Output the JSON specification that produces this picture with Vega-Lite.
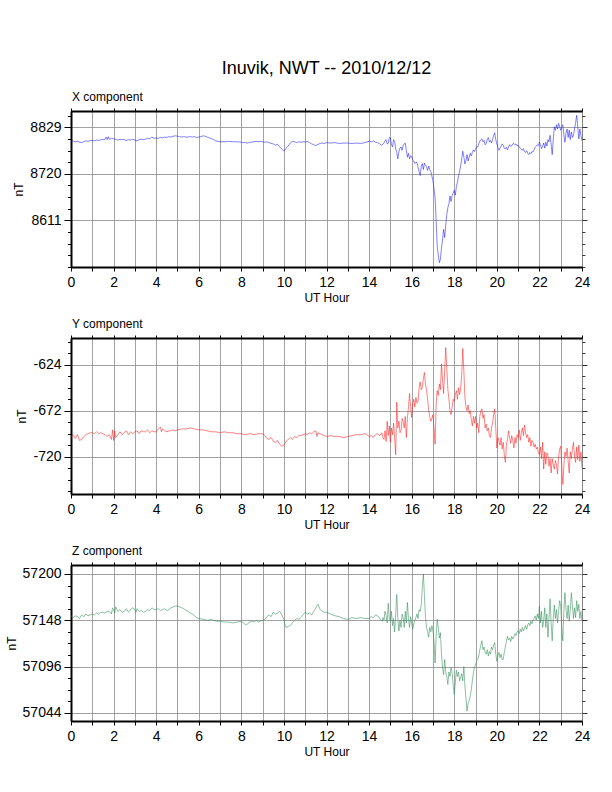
{
  "$schema": "https://vega.github.io/schema/vega-lite/v6.json",
  "padding": {"left": 4, "top": 60, "right": 5, "bottom": 5},
  "title": {"text": "Inuvik, NWT -- 2010/12/12", "fontSize": 18, "fontWeight": "normal", "font": "Liberation Sans", "color": "black", "frame": "group", "anchor": "middle", "offset": 12},
  "bounds": "flush",
  "spacing": 71,
  "config": {
    "view": {"stroke": "#777", "strokeWidth": 1},
    "font": "Liberation Sans",
    "title": {"font": "Liberation Sans", "color": "black"},
    "axis": {"labelFont": "Liberation Sans", "titleFont": "Liberation Sans", "labelColor": "black", "titleColor": "black", "tickColor": "black", "domainColor": "black", "titleFontWeight": "normal", "gridColor": "#8a8a8a", "gridWidth": 0.8, "labelFontSize": 14, "titleFontSize": 12, "domainWidth": 2, "tickWidth": 1, "labelFlush": false, "labelOverlap": false},
    "axisBottom": {"tickSize": 4, "labelPadding": 4, "titlePadding": 3},
    "axisLeft": {"labelPadding": 3, "titlePadding": 4},
    "axisRight": {"tickWidth": 0.8, "domain": false},
    "axisTop": {"tickSize": 3}
  },
  "vconcat": [
    {
      "width": 511, "height": 156,
      "title": {"text": "X component", "anchor": "start", "frame": "group", "fontSize": 12, "fontWeight": "normal", "offset": 4, "dx": 1},
      "data": {"name": "xcomp"},
      "resolve": {"axis": {"x": "independent", "y": "independent"}},
      "layer": [
        {
          "mark": {"type": "line", "strokeWidth": 0.55, "color": "#1a1aff", "clip": true},
          "encoding": {
            "x": {"field": "h", "type": "quantitative", "scale": {"domain": [0, 24], "nice": false, "zero": false},
              "axis": {"orient": "bottom", "values": [0,1,2,3,4,5,6,7,8,9,10,11,12,13,14,15,16,17,18,19,20,21,22,23,24], "labelExpr": "datum.value % 2 == 0 ? datum.label : ''", "title": "UT Hour", "grid": true}},
            "y": {"field": "v", "type": "quantitative", "scale": {"domain": [8502, 8867], "nice": false, "zero": false},
              "axis": {"orient": "left", "values": [8502,8529.25,8556.5,8583.75,8611,8638.25,8665.5,8692.75,8720,8747.25,8774.5,8801.75,8829,8856.25],
                "labelExpr": "indexof([8611,8720,8829], datum.value) >= 0 ? '' + datum.value : ''",
                "tickSize": {"condition": {"test": "indexof([8611,8720,8829], datum.value) >= 0", "value": 7}, "value": 3.5},
                "gridOpacity": {"condition": {"test": "indexof([8611,8720,8829], datum.value) >= 0", "value": 1}, "value": 0},
                "title": "nT", "grid": true}}
          }
        },
        {
          "mark": {"type": "line", "opacity": 0},
          "encoding": {
            "x": {"field": "h", "type": "quantitative", "axis": {"orient": "top", "values": [0,1,2,3,4,5,6,7,8,9,10,11,12,13,14,15,16,17,18,19,20,21,22,23,24], "labels": false, "grid": false, "title": null}},
            "y": {"field": "v", "type": "quantitative", "axis": {"orient": "right", "values": [8502,8529.25,8556.5,8583.75,8611,8638.25,8665.5,8692.75,8720,8747.25,8774.5,8801.75,8829,8856.25], "labels": false, "grid": false, "title": null,
              "tickSize": {"condition": {"test": "indexof([8611,8720,8829], datum.value) >= 0", "value": 5}, "value": 3}}}
          }
        }
      ]
    },
    {
      "width": 511, "height": 156,
      "title": {"text": "Y component", "anchor": "start", "frame": "group", "fontSize": 12, "fontWeight": "normal", "offset": 4, "dx": 1},
      "data": {"name": "ycomp"},
      "resolve": {"axis": {"x": "independent", "y": "independent"}},
      "layer": [
        {
          "mark": {"type": "line", "strokeWidth": 0.55, "color": "#ff1a1a", "clip": true},
          "encoding": {
            "x": {"field": "h", "type": "quantitative", "scale": {"domain": [0, 24], "nice": false, "zero": false},
              "axis": {"orient": "bottom", "values": [0,1,2,3,4,5,6,7,8,9,10,11,12,13,14,15,16,17,18,19,20,21,22,23,24], "labelExpr": "datum.value % 2 == 0 ? datum.label : ''", "title": "UT Hour", "grid": true}},
            "y": {"field": "v", "type": "quantitative", "scale": {"domain": [-759, -596], "nice": false, "zero": false},
              "axis": {"orient": "left", "values": [-756,-744,-732,-720,-708,-696,-684,-672,-660,-648,-636,-624,-612,-600],
                "labelExpr": "indexof([-720,-672,-624], datum.value) >= 0 ? '' + datum.value : ''",
                "tickSize": {"condition": {"test": "indexof([-720,-672,-624], datum.value) >= 0", "value": 7}, "value": 3.5},
                "gridOpacity": {"condition": {"test": "indexof([-720,-672,-624], datum.value) >= 0", "value": 1}, "value": 0},
                "title": "nT", "grid": true}}
          }
        },
        {
          "mark": {"type": "line", "opacity": 0},
          "encoding": {
            "x": {"field": "h", "type": "quantitative", "axis": {"orient": "top", "values": [0,1,2,3,4,5,6,7,8,9,10,11,12,13,14,15,16,17,18,19,20,21,22,23,24], "labels": false, "grid": false, "title": null}},
            "y": {"field": "v", "type": "quantitative", "axis": {"orient": "right", "values": [-756,-744,-732,-720,-708,-696,-684,-672,-660,-648,-636,-624,-612,-600], "labels": false, "grid": false, "title": null,
              "tickSize": {"condition": {"test": "indexof([-720,-672,-624], datum.value) >= 0", "value": 5}, "value": 3}}}
          }
        }
      ]
    },
    {
      "width": 511, "height": 156,
      "title": {"text": "Z component", "anchor": "start", "frame": "group", "fontSize": 12, "fontWeight": "normal", "offset": 4, "dx": 1},
      "data": {"name": "zcomp"},
      "resolve": {"axis": {"x": "independent", "y": "independent"}},
      "layer": [
        {
          "mark": {"type": "line", "strokeWidth": 0.55, "color": "#2e8b57", "clip": true},
          "encoding": {
            "x": {"field": "h", "type": "quantitative", "scale": {"domain": [0, 24], "nice": false, "zero": false},
              "axis": {"orient": "bottom", "values": [0,1,2,3,4,5,6,7,8,9,10,11,12,13,14,15,16,17,18,19,20,21,22,23,24], "labelExpr": "datum.value % 2 == 0 ? datum.label : ''", "title": "UT Hour", "grid": true}},
            "y": {"field": "v", "type": "quantitative", "scale": {"domain": [57035, 57210], "nice": false, "zero": false},
              "axis": {"orient": "left", "values": [57044,57057,57070,57083,57096,57109,57122,57135,57148,57161,57174,57187,57200],
                "labelExpr": "indexof([57044,57096,57148,57200], datum.value) >= 0 ? '' + datum.value : ''",
                "tickSize": {"condition": {"test": "indexof([57044,57096,57148,57200], datum.value) >= 0", "value": 7}, "value": 3.5},
                "gridOpacity": {"condition": {"test": "indexof([57044,57096,57148,57200], datum.value) >= 0", "value": 1}, "value": 0},
                "title": "nT", "grid": true}}
          }
        },
        {
          "mark": {"type": "line", "opacity": 0},
          "encoding": {
            "x": {"field": "h", "type": "quantitative", "axis": {"orient": "top", "values": [0,1,2,3,4,5,6,7,8,9,10,11,12,13,14,15,16,17,18,19,20,21,22,23,24], "labels": false, "grid": false, "title": null}},
            "y": {"field": "v", "type": "quantitative", "axis": {"orient": "right", "values": [57044,57057,57070,57083,57096,57109,57122,57135,57148,57161,57174,57187,57200], "labels": false, "grid": false, "title": null,
              "tickSize": {"condition": {"test": "indexof([57044,57096,57148,57200], datum.value) >= 0", "value": 5}, "value": 3}}}
          }
        }
      ]
    }
  ],
  "datasets": {
    "xcomp": [
      {"h":0,"v":8796},{"h":0.1,"v":8797},{"h":0.2,"v":8795},{"h":0.3,"v":8796},{"h":0.4,"v":8794},{"h":0.5,"v":8793},{"h":0.6,"v":8795},{"h":0.7,"v":8797},{"h":0.8,"v":8796},{"h":0.9,"v":8798},
      {"h":1,"v":8798},{"h":1.1,"v":8797},{"h":1.2,"v":8799},{"h":1.3,"v":8798},{"h":1.4,"v":8800},{"h":1.5,"v":8800},{"h":1.6,"v":8801},{"h":1.65,"v":8806},{"h":1.7,"v":8800},{"h":1.75,"v":8807},{"h":1.8,"v":8801},{"h":1.9,"v":8803},
      {"h":2,"v":8802},{"h":2.1,"v":8801},{"h":2.2,"v":8799},{"h":2.3,"v":8801},{"h":2.4,"v":8800},{"h":2.5,"v":8800},{"h":2.6,"v":8798},{"h":2.7,"v":8800},{"h":2.8,"v":8799},{"h":2.9,"v":8801},
      {"h":3,"v":8799},{"h":3.1,"v":8797},{"h":3.2,"v":8800},{"h":3.3,"v":8801},{"h":3.4,"v":8800},{"h":3.5,"v":8801},{"h":3.6,"v":8803},{"h":3.7,"v":8802},{"h":3.8,"v":8806},{"h":3.9,"v":8803},
      {"h":4,"v":8804},{"h":4.1,"v":8803},{"h":4.2,"v":8805},{"h":4.3,"v":8804},{"h":4.4,"v":8806},{"h":4.5,"v":8805},{"h":4.6,"v":8807},{"h":4.7,"v":8806},{"h":4.8,"v":8808},{"h":4.9,"v":8809},
      {"h":5,"v":8808},{"h":5.1,"v":8807},{"h":5.2,"v":8806},{"h":5.3,"v":8807},{"h":5.4,"v":8806},{"h":5.5,"v":8806},{"h":5.6,"v":8807},{"h":5.7,"v":8806},{"h":5.8,"v":8807},{"h":5.9,"v":8805},
      {"h":6,"v":8806},{"h":6.1,"v":8807},{"h":6.2,"v":8809},{"h":6.3,"v":8808},{"h":6.4,"v":8806},{"h":6.5,"v":8804},{"h":6.6,"v":8802},{"h":6.7,"v":8800},{"h":6.8,"v":8797},{"h":6.9,"v":8796},
      {"h":7,"v":8795},{"h":7.2,"v":8795},{"h":7.4,"v":8796},{"h":7.6,"v":8795},{"h":7.8,"v":8795},{"h":8,"v":8794},{"h":8.1,"v":8793},{"h":8.2,"v":8793},{"h":8.3,"v":8792},{"h":8.4,"v":8794},{"h":8.5,"v":8794},{"h":8.6,"v":8795},{"h":8.7,"v":8796},{"h":8.8,"v":8795},{"h":8.9,"v":8796},
      {"h":9,"v":8795},{"h":9.1,"v":8794},{"h":9.2,"v":8795},{"h":9.3,"v":8793},{"h":9.4,"v":8791},{"h":9.5,"v":8790},{"h":9.6,"v":8787},{"h":9.7,"v":8789},{"h":9.8,"v":8783},{"h":9.9,"v":8778},
      {"h":10,"v":8773},{"h":10.05,"v":8775},{"h":10.1,"v":8780},{"h":10.2,"v":8785},{"h":10.3,"v":8792},{"h":10.4,"v":8796},{"h":10.5,"v":8795},{"h":10.6,"v":8793},{"h":10.7,"v":8795},{"h":10.8,"v":8794},{"h":10.9,"v":8795},
      {"h":11,"v":8794},{"h":11.1,"v":8796},{"h":11.2,"v":8793},{"h":11.3,"v":8790},{"h":11.4,"v":8788},{"h":11.5,"v":8786},{"h":11.6,"v":8789},{"h":11.7,"v":8791},{"h":11.8,"v":8792},{"h":11.9,"v":8791},
      {"h":12,"v":8793},{"h":12.2,"v":8792},{"h":12.4,"v":8793},{"h":12.6,"v":8791},{"h":12.8,"v":8792},{"h":13,"v":8792},{"h":13.2,"v":8791},{"h":13.4,"v":8792},{"h":13.6,"v":8791},{"h":13.8,"v":8793},
      {"h":14,"v":8796},{"h":14.1,"v":8795},{"h":14.2,"v":8797},{"h":14.3,"v":8794},{"h":14.4,"v":8793},{"h":14.5,"v":8790},{"h":14.6,"v":8787},{"h":14.7,"v":8792},{"h":14.75,"v":8798},{"h":14.8,"v":8800},{"h":14.85,"v":8790},{"h":14.9,"v":8791},{"h":14.95,"v":8805},
      {"h":15,"v":8804},{"h":15.05,"v":8788},{"h":15.1,"v":8783},{"h":15.15,"v":8800},{"h":15.2,"v":8796},{"h":15.25,"v":8778},{"h":15.3,"v":8770},{"h":15.35,"v":8755},{"h":15.4,"v":8772},{"h":15.45,"v":8780},{"h":15.5,"v":8783},{"h":15.55,"v":8775},{"h":15.6,"v":8786},{"h":15.65,"v":8790},{"h":15.7,"v":8792},{"h":15.75,"v":8775},{"h":15.8,"v":8759},{"h":15.85,"v":8768},{"h":15.9,"v":8755},{"h":15.95,"v":8762},
      {"h":16,"v":8761},{"h":16.05,"v":8752},{"h":16.1,"v":8750},{"h":16.15,"v":8744},{"h":16.2,"v":8747},{"h":16.25,"v":8746},{"h":16.3,"v":8735},{"h":16.35,"v":8725},{"h":16.4,"v":8716},{"h":16.45,"v":8738},{"h":16.5,"v":8744},{"h":16.55,"v":8730},{"h":16.6,"v":8745},{"h":16.65,"v":8740},{"h":16.7,"v":8737},{"h":16.75,"v":8728},{"h":16.8,"v":8738},{"h":16.85,"v":8730},{"h":16.9,"v":8725},{"h":16.95,"v":8715},
      {"h":17,"v":8704},{"h":17.05,"v":8685},{"h":17.1,"v":8665},{"h":17.15,"v":8610},{"h":17.2,"v":8551},{"h":17.25,"v":8530},{"h":17.3,"v":8512},{"h":17.35,"v":8520},{"h":17.4,"v":8547},{"h":17.45,"v":8565},{"h":17.5,"v":8590},{"h":17.55,"v":8571},{"h":17.6,"v":8600},{"h":17.65,"v":8625},{"h":17.7,"v":8641},{"h":17.75,"v":8650},{"h":17.8,"v":8668},{"h":17.85,"v":8655},{"h":17.9,"v":8669},{"h":17.95,"v":8675},
      {"h":18,"v":8681},{"h":18.05,"v":8670},{"h":18.1,"v":8690},{"h":18.15,"v":8700},{"h":18.2,"v":8715},{"h":18.25,"v":8725},{"h":18.3,"v":8738},{"h":18.35,"v":8755},{"h":18.4,"v":8773},{"h":18.45,"v":8760},{"h":18.5,"v":8743},{"h":18.55,"v":8752},{"h":18.6,"v":8765},{"h":18.65,"v":8750},{"h":18.7,"v":8759},{"h":18.75,"v":8768},{"h":18.8,"v":8762},{"h":18.85,"v":8770},{"h":18.9,"v":8776},{"h":18.95,"v":8772},
      {"h":19,"v":8778},{"h":19.05,"v":8783},{"h":19.1,"v":8783},{"h":19.15,"v":8790},{"h":19.2,"v":8796},{"h":19.25,"v":8800},{"h":19.3,"v":8802},{"h":19.35,"v":8795},{"h":19.4,"v":8798},{"h":19.45,"v":8788},{"h":19.5,"v":8791},{"h":19.55,"v":8800},{"h":19.6,"v":8805},{"h":19.65,"v":8795},{"h":19.7,"v":8798},{"h":19.75,"v":8792},{"h":19.8,"v":8800},{"h":19.85,"v":8810},{"h":19.9,"v":8816},{"h":19.95,"v":8800},
      {"h":20,"v":8790},{"h":20.05,"v":8782},{"h":20.1,"v":8775},{"h":20.15,"v":8780},{"h":20.2,"v":8785},{"h":20.25,"v":8790},{"h":20.3,"v":8787},{"h":20.35,"v":8780},{"h":20.4,"v":8778},{"h":20.45,"v":8782},{"h":20.5,"v":8776},{"h":20.55,"v":8783},{"h":20.6,"v":8788},{"h":20.65,"v":8784},{"h":20.7,"v":8786},{"h":20.75,"v":8790},{"h":20.8,"v":8791},{"h":20.85,"v":8788},{"h":20.9,"v":8790},{"h":20.95,"v":8786},
      {"h":21,"v":8787},{"h":21.05,"v":8783},{"h":21.1,"v":8780},{"h":21.15,"v":8778},{"h":21.2,"v":8775},{"h":21.25,"v":8779},{"h":21.3,"v":8772},{"h":21.35,"v":8770},{"h":21.4,"v":8774},{"h":21.45,"v":8768},{"h":21.5,"v":8765},{"h":21.55,"v":8770},{"h":21.6,"v":8767},{"h":21.65,"v":8772},{"h":21.7,"v":8771},{"h":21.75,"v":8776},{"h":21.8,"v":8782},{"h":21.85,"v":8785},{"h":21.9,"v":8788},{"h":21.95,"v":8786},
      {"h":22,"v":8794},{"h":22.05,"v":8788},{"h":22.1,"v":8779},{"h":22.15,"v":8785},{"h":22.2,"v":8792},{"h":22.25,"v":8780},{"h":22.3,"v":8794},{"h":22.35,"v":8785},{"h":22.4,"v":8800},{"h":22.45,"v":8795},{"h":22.5,"v":8810},{"h":22.55,"v":8790},{"h":22.6,"v":8765},{"h":22.65,"v":8800},{"h":22.7,"v":8830},{"h":22.75,"v":8822},{"h":22.8,"v":8835},{"h":22.85,"v":8825},{"h":22.9,"v":8838},{"h":22.95,"v":8830},
      {"h":23,"v":8822},{"h":23.05,"v":8830},{"h":23.1,"v":8835},{"h":23.15,"v":8810},{"h":23.2,"v":8794},{"h":23.25,"v":8815},{"h":23.3,"v":8825},{"h":23.35,"v":8805},{"h":23.4,"v":8822},{"h":23.45,"v":8800},{"h":23.5,"v":8818},{"h":23.55,"v":8805},{"h":23.6,"v":8810},{"h":23.65,"v":8825},{"h":23.7,"v":8840},{"h":23.75,"v":8857},{"h":23.8,"v":8830},{"h":23.85,"v":8802},{"h":23.9,"v":8825},{"h":23.95,"v":8810},{"h":24,"v":8798}
    ],
    "ycomp": [
      {"h":0,"v":-699},{"h":0.1,"v":-697},{"h":0.2,"v":-701},{"h":0.3,"v":-697},{"h":0.4,"v":-703},{"h":0.5,"v":-702},{"h":0.6,"v":-699},{"h":0.7,"v":-697},{"h":0.8,"v":-696},{"h":0.9,"v":-695},
      {"h":1,"v":-695},{"h":1.1,"v":-696},{"h":1.2,"v":-694},{"h":1.3,"v":-696},{"h":1.4,"v":-695},{"h":1.5,"v":-696},{"h":1.6,"v":-697},{"h":1.7,"v":-699},{"h":1.8,"v":-697},{"h":1.9,"v":-702},{"h":1.95,"v":-692},
      {"h":2,"v":-703},{"h":2.05,"v":-693},{"h":2.1,"v":-700},{"h":2.2,"v":-697},{"h":2.3,"v":-694},{"h":2.4,"v":-697},{"h":2.5,"v":-695},{"h":2.6,"v":-693},{"h":2.7,"v":-697},{"h":2.8,"v":-694},{"h":2.9,"v":-696},
      {"h":3,"v":-694},{"h":3.1,"v":-693},{"h":3.2,"v":-696},{"h":3.3,"v":-693},{"h":3.4,"v":-694},{"h":3.5,"v":-694},{"h":3.6,"v":-692},{"h":3.7,"v":-695},{"h":3.8,"v":-693},{"h":3.9,"v":-694},
      {"h":4,"v":-694},{"h":4.1,"v":-691},{"h":4.2,"v":-689},{"h":4.25,"v":-694},{"h":4.3,"v":-691},{"h":4.4,"v":-693},{"h":4.5,"v":-694},{"h":4.6,"v":-693},{"h":4.7,"v":-693},{"h":4.8,"v":-692},{"h":4.9,"v":-693},
      {"h":5,"v":-692},{"h":5.2,"v":-691},{"h":5.4,"v":-691},{"h":5.6,"v":-690},{"h":5.8,"v":-691},{"h":6,"v":-692},{"h":6.2,"v":-692},{"h":6.4,"v":-693},{"h":6.6,"v":-694},{"h":6.8,"v":-694},
      {"h":7,"v":-695},{"h":7.2,"v":-694},{"h":7.4,"v":-695},{"h":7.6,"v":-695},{"h":7.8,"v":-696},{"h":8,"v":-696},{"h":8.2,"v":-697},{"h":8.4,"v":-696},{"h":8.6,"v":-697},{"h":8.8,"v":-696},
      {"h":9,"v":-696},{"h":9.1,"v":-698},{"h":9.2,"v":-701},{"h":9.3,"v":-702},{"h":9.4,"v":-700},{"h":9.5,"v":-704},{"h":9.6,"v":-705},{"h":9.7,"v":-703},{"h":9.8,"v":-707},{"h":9.9,"v":-709},
      {"h":10,"v":-708},{"h":10.1,"v":-704},{"h":10.2,"v":-702},{"h":10.3,"v":-700},{"h":10.4,"v":-702},{"h":10.5,"v":-699},{"h":10.6,"v":-700},{"h":10.7,"v":-698},{"h":10.8,"v":-698},{"h":10.9,"v":-697},
      {"h":11,"v":-696},{"h":11.1,"v":-697},{"h":11.2,"v":-695},{"h":11.3,"v":-696},{"h":11.4,"v":-694},{"h":11.5,"v":-693},{"h":11.55,"v":-699},{"h":11.6,"v":-695},{"h":11.7,"v":-696},{"h":11.8,"v":-697},{"h":11.9,"v":-698},
      {"h":12,"v":-699},{"h":12.2,"v":-698},{"h":12.4,"v":-699},{"h":12.6,"v":-699},{"h":12.8,"v":-700},{"h":13,"v":-699},{"h":13.2,"v":-698},{"h":13.4,"v":-697},{"h":13.6,"v":-697},{"h":13.8,"v":-696},{"h":13.9,"v":-697},
      {"h":14,"v":-699},{"h":14.1,"v":-698},{"h":14.2,"v":-700},{"h":14.3,"v":-697},{"h":14.4,"v":-696},{"h":14.5,"v":-698},{"h":14.6,"v":-695},{"h":14.65,"v":-700},{"h":14.7,"v":-702},{"h":14.75,"v":-693},{"h":14.8,"v":-704},{"h":14.85,"v":-683},{"h":14.9,"v":-698},{"h":14.95,"v":-688},
      {"h":15,"v":-705},{"h":15.05,"v":-690},{"h":15.1,"v":-697},{"h":15.15,"v":-685},{"h":15.2,"v":-700},{"h":15.25,"v":-718},{"h":15.3,"v":-663},{"h":15.35,"v":-690},{"h":15.4,"v":-683},{"h":15.45,"v":-695},{"h":15.5,"v":-693},{"h":15.55,"v":-680},{"h":15.6,"v":-683},{"h":15.65,"v":-690},{"h":15.7,"v":-678},{"h":15.75,"v":-700},{"h":15.8,"v":-680},{"h":15.85,"v":-668},{"h":15.9,"v":-654},{"h":15.95,"v":-668},
      {"h":16,"v":-679},{"h":16.05,"v":-665},{"h":16.1,"v":-660},{"h":16.15,"v":-668},{"h":16.2,"v":-658},{"h":16.25,"v":-664},{"h":16.3,"v":-662},{"h":16.35,"v":-648},{"h":16.4,"v":-642},{"h":16.45,"v":-650},{"h":16.5,"v":-647},{"h":16.55,"v":-638},{"h":16.6,"v":-632},{"h":16.65,"v":-645},{"h":16.7,"v":-650},{"h":16.75,"v":-660},{"h":16.8,"v":-672},{"h":16.85,"v":-678},{"h":16.9,"v":-683},{"h":16.95,"v":-680},
      {"h":17,"v":-676},{"h":17.05,"v":-690},{"h":17.1,"v":-707},{"h":17.15,"v":-665},{"h":17.2,"v":-651},{"h":17.25,"v":-656},{"h":17.3,"v":-644},{"h":17.35,"v":-650},{"h":17.4,"v":-623},{"h":17.45,"v":-640},{"h":17.5,"v":-654},{"h":17.55,"v":-630},{"h":17.6,"v":-606},{"h":17.65,"v":-628},{"h":17.7,"v":-650},{"h":17.75,"v":-660},{"h":17.8,"v":-672},{"h":17.85,"v":-676},{"h":17.9,"v":-668},{"h":17.95,"v":-660},
      {"h":18,"v":-662},{"h":18.05,"v":-655},{"h":18.1,"v":-651},{"h":18.15,"v":-660},{"h":18.2,"v":-648},{"h":18.25,"v":-655},{"h":18.3,"v":-649},{"h":18.35,"v":-635},{"h":18.4,"v":-607},{"h":18.45,"v":-630},{"h":18.5,"v":-658},{"h":18.55,"v":-668},{"h":18.6,"v":-672},{"h":18.65,"v":-666},{"h":18.7,"v":-675},{"h":18.75,"v":-672},{"h":18.8,"v":-681},{"h":18.85,"v":-688},{"h":18.9,"v":-678},{"h":18.95,"v":-685},
      {"h":19,"v":-678},{"h":19.05,"v":-690},{"h":19.1,"v":-685},{"h":19.15,"v":-695},{"h":19.2,"v":-678},{"h":19.25,"v":-672},{"h":19.3,"v":-670},{"h":19.35,"v":-680},{"h":19.4,"v":-676},{"h":19.45,"v":-690},{"h":19.5,"v":-686},{"h":19.55,"v":-693},{"h":19.6,"v":-690},{"h":19.65,"v":-698},{"h":19.7,"v":-700},{"h":19.75,"v":-690},{"h":19.8,"v":-685},{"h":19.85,"v":-676},{"h":19.9,"v":-670},{"h":19.95,"v":-690},
      {"h":20,"v":-711},{"h":20.05,"v":-700},{"h":20.1,"v":-704},{"h":20.15,"v":-708},{"h":20.2,"v":-700},{"h":20.25,"v":-712},{"h":20.3,"v":-705},{"h":20.35,"v":-718},{"h":20.4,"v":-726},{"h":20.45,"v":-708},{"h":20.5,"v":-702},{"h":20.55,"v":-693},{"h":20.6,"v":-700},{"h":20.65,"v":-706},{"h":20.7,"v":-698},{"h":20.75,"v":-703},{"h":20.8,"v":-711},{"h":20.85,"v":-700},{"h":20.9,"v":-706},{"h":20.95,"v":-697},
      {"h":21,"v":-700},{"h":21.05,"v":-692},{"h":21.1,"v":-703},{"h":21.15,"v":-695},{"h":21.2,"v":-690},{"h":21.25,"v":-698},{"h":21.3,"v":-687},{"h":21.35,"v":-695},{"h":21.4,"v":-700},{"h":21.45,"v":-697},{"h":21.5,"v":-705},{"h":21.55,"v":-700},{"h":21.6,"v":-709},{"h":21.65,"v":-703},{"h":21.7,"v":-705},{"h":21.75,"v":-710},{"h":21.8,"v":-707},{"h":21.85,"v":-712},{"h":21.9,"v":-710},{"h":21.95,"v":-716},
      {"h":22,"v":-718},{"h":22.05,"v":-710},{"h":22.1,"v":-722},{"h":22.15,"v":-705},{"h":22.2,"v":-733},{"h":22.25,"v":-715},{"h":22.3,"v":-728},{"h":22.35,"v":-716},{"h":22.4,"v":-719},{"h":22.45,"v":-730},{"h":22.5,"v":-722},{"h":22.55,"v":-737},{"h":22.6,"v":-722},{"h":22.65,"v":-728},{"h":22.7,"v":-733},{"h":22.75,"v":-724},{"h":22.8,"v":-728},{"h":22.85,"v":-738},{"h":22.9,"v":-720},{"h":22.95,"v":-712},
      {"h":23,"v":-709},{"h":23.05,"v":-730},{"h":23.1,"v":-749},{"h":23.15,"v":-728},{"h":23.2,"v":-715},{"h":23.25,"v":-720},{"h":23.3,"v":-711},{"h":23.35,"v":-725},{"h":23.4,"v":-737},{"h":23.45,"v":-715},{"h":23.5,"v":-722},{"h":23.55,"v":-712},{"h":23.6,"v":-705},{"h":23.65,"v":-720},{"h":23.7,"v":-726},{"h":23.75,"v":-710},{"h":23.8,"v":-723},{"h":23.85,"v":-708},{"h":23.9,"v":-725},{"h":23.95,"v":-715},{"h":24,"v":-732}
    ],
    "zcomp": [
      {"h":0,"v":57153},{"h":0.1,"v":57151},{"h":0.2,"v":57153},{"h":0.3,"v":57152},{"h":0.4,"v":57150},{"h":0.5,"v":57154},{"h":0.6,"v":57152},{"h":0.7,"v":57155},{"h":0.8,"v":57153},{"h":0.9,"v":57154},
      {"h":1,"v":57155},{"h":1.1,"v":57154},{"h":1.2,"v":57156},{"h":1.3,"v":57155},{"h":1.4,"v":57157},{"h":1.5,"v":57157},{"h":1.6,"v":57156},{"h":1.7,"v":57158},{"h":1.8,"v":57158},{"h":1.9,"v":57155},{"h":1.95,"v":57162},
      {"h":2,"v":57160},{"h":2.05,"v":57156},{"h":2.1,"v":57163},{"h":2.2,"v":57158},{"h":2.3,"v":57160},{"h":2.4,"v":57157},{"h":2.5,"v":57158},{"h":2.6,"v":57161},{"h":2.7,"v":57157},{"h":2.8,"v":57160},{"h":2.9,"v":57162},
      {"h":3,"v":57160},{"h":3.05,"v":57157},{"h":3.1,"v":57161},{"h":3.2,"v":57158},{"h":3.3,"v":57159},{"h":3.4,"v":57157},{"h":3.5,"v":57158},{"h":3.6,"v":57160},{"h":3.7,"v":57159},{"h":3.8,"v":57162},{"h":3.9,"v":57160},
      {"h":4,"v":57160},{"h":4.1,"v":57161},{"h":4.2,"v":57159},{"h":4.3,"v":57160},{"h":4.4,"v":57161},{"h":4.5,"v":57159},{"h":4.6,"v":57160},{"h":4.7,"v":57162},{"h":4.8,"v":57163},{"h":4.9,"v":57164},
      {"h":5,"v":57164},{"h":5.1,"v":57163},{"h":5.2,"v":57162},{"h":5.3,"v":57161},{"h":5.4,"v":57159},{"h":5.5,"v":57158},{"h":5.6,"v":57156},{"h":5.7,"v":57155},{"h":5.8,"v":57153},{"h":5.9,"v":57151},
      {"h":6,"v":57150},{"h":6.2,"v":57149},{"h":6.4,"v":57148},{"h":6.6,"v":57149},{"h":6.8,"v":57147},{"h":7,"v":57147},{"h":7.2,"v":57146},{"h":7.4,"v":57146},{"h":7.6,"v":57145},{"h":7.8,"v":57146},
      {"h":8,"v":57147},{"h":8.1,"v":57145},{"h":8.2,"v":57143},{"h":8.3,"v":57144},{"h":8.4,"v":57146},{"h":8.5,"v":57147},{"h":8.6,"v":57146},{"h":8.7,"v":57148},{"h":8.8,"v":57146},{"h":8.9,"v":57147},
      {"h":9,"v":57148},{"h":9.1,"v":57149},{"h":9.2,"v":57152},{"h":9.3,"v":57154},{"h":9.4,"v":57152},{"h":9.5,"v":57157},{"h":9.6,"v":57155},{"h":9.7,"v":57156},{"h":9.8,"v":57158},{"h":9.9,"v":57154},
      {"h":10,"v":57149},{"h":10.05,"v":57143},{"h":10.1,"v":57140},{"h":10.2,"v":57141},{"h":10.3,"v":57142},{"h":10.4,"v":57145},{"h":10.5,"v":57148},{"h":10.6,"v":57150},{"h":10.7,"v":57149},{"h":10.8,"v":57151},{"h":10.9,"v":57154},
      {"h":11,"v":57157},{"h":11.1,"v":57155},{"h":11.2,"v":57156},{"h":11.3,"v":57154},{"h":11.4,"v":57158},{"h":11.5,"v":57162},{"h":11.6,"v":57166},{"h":11.7,"v":57160},{"h":11.8,"v":57158},{"h":11.9,"v":57157},
      {"h":12,"v":57157},{"h":12.2,"v":57155},{"h":12.4,"v":57153},{"h":12.6,"v":57152},{"h":12.8,"v":57150},{"h":13,"v":57149},{"h":13.2,"v":57151},{"h":13.4,"v":57150},{"h":13.6,"v":57151},{"h":13.8,"v":57150},
      {"h":14,"v":57150},{"h":14.1,"v":57152},{"h":14.2,"v":57151},{"h":14.3,"v":57154},{"h":14.4,"v":57153},{"h":14.5,"v":57150},{"h":14.6,"v":57147},{"h":14.65,"v":57151},{"h":14.7,"v":57148},{"h":14.75,"v":57158},{"h":14.8,"v":57153},{"h":14.85,"v":57145},{"h":14.9,"v":57167},{"h":14.95,"v":57150},
      {"h":15,"v":57147},{"h":15.05,"v":57158},{"h":15.1,"v":57142},{"h":15.15,"v":57150},{"h":15.2,"v":57135},{"h":15.25,"v":57155},{"h":15.3,"v":57177},{"h":15.35,"v":57150},{"h":15.4,"v":57136},{"h":15.45,"v":57148},{"h":15.5,"v":57140},{"h":15.55,"v":57155},{"h":15.6,"v":57151},{"h":15.65,"v":57140},{"h":15.7,"v":57158},{"h":15.75,"v":57145},{"h":15.8,"v":57168},{"h":15.85,"v":57150},{"h":15.9,"v":57140},{"h":15.95,"v":57152},
      {"h":16,"v":57145},{"h":16.05,"v":57138},{"h":16.1,"v":57144},{"h":16.15,"v":57148},{"h":16.2,"v":57151},{"h":16.25,"v":57155},{"h":16.3,"v":57150},{"h":16.35,"v":57160},{"h":16.4,"v":57158},{"h":16.45,"v":57165},{"h":16.5,"v":57185},{"h":16.55,"v":57200},{"h":16.6,"v":57175},{"h":16.65,"v":57151},{"h":16.7,"v":57140},{"h":16.75,"v":57135},{"h":16.8,"v":57129},{"h":16.85,"v":57140},{"h":16.9,"v":57135},{"h":16.95,"v":57142},
      {"h":17,"v":57136},{"h":17.05,"v":57125},{"h":17.1,"v":57100},{"h":17.15,"v":57130},{"h":17.2,"v":57149},{"h":17.25,"v":57140},{"h":17.3,"v":57128},{"h":17.35,"v":57134},{"h":17.4,"v":57110},{"h":17.45,"v":57095},{"h":17.5,"v":57087},{"h":17.55,"v":57104},{"h":17.6,"v":57090},{"h":17.65,"v":57085},{"h":17.7,"v":57076},{"h":17.75,"v":57090},{"h":17.8,"v":57085},{"h":17.85,"v":57095},{"h":17.9,"v":57089},{"h":17.95,"v":57075},
      {"h":18,"v":57065},{"h":18.05,"v":57078},{"h":18.1,"v":57092},{"h":18.15,"v":57085},{"h":18.2,"v":57090},{"h":18.25,"v":57080},{"h":18.3,"v":57084},{"h":18.35,"v":57088},{"h":18.4,"v":57080},{"h":18.45,"v":57096},{"h":18.5,"v":57075},{"h":18.55,"v":57060},{"h":18.6,"v":57046},{"h":18.65,"v":57055},{"h":18.7,"v":57058},{"h":18.75,"v":57063},{"h":18.8,"v":57070},{"h":18.85,"v":57080},{"h":18.9,"v":57089},{"h":18.95,"v":57095},
      {"h":19,"v":57098},{"h":19.05,"v":57102},{"h":19.1,"v":57104},{"h":19.15,"v":57108},{"h":19.2,"v":57115},{"h":19.25,"v":57120},{"h":19.3,"v":57125},{"h":19.35,"v":57115},{"h":19.4,"v":57118},{"h":19.45,"v":57112},{"h":19.5,"v":57110},{"h":19.55,"v":57115},{"h":19.6,"v":57108},{"h":19.65,"v":57113},{"h":19.7,"v":57110},{"h":19.75,"v":57118},{"h":19.8,"v":57115},{"h":19.85,"v":57120},{"h":19.9,"v":57123},{"h":19.95,"v":57110},
      {"h":20,"v":57102},{"h":20.05,"v":57108},{"h":20.1,"v":57112},{"h":20.15,"v":57106},{"h":20.2,"v":57110},{"h":20.25,"v":57104},{"h":20.3,"v":57104},{"h":20.35,"v":57112},{"h":20.4,"v":57118},{"h":20.45,"v":57125},{"h":20.5,"v":57130},{"h":20.55,"v":57126},{"h":20.6,"v":57128},{"h":20.65,"v":57124},{"h":20.7,"v":57130},{"h":20.75,"v":57127},{"h":20.8,"v":57129},{"h":20.85,"v":57133},{"h":20.9,"v":57131},{"h":20.95,"v":57135},
      {"h":21,"v":57136},{"h":21.05,"v":57133},{"h":21.1,"v":57138},{"h":21.15,"v":57135},{"h":21.2,"v":57140},{"h":21.25,"v":57136},{"h":21.3,"v":57139},{"h":21.35,"v":57142},{"h":21.4,"v":57138},{"h":21.45,"v":57143},{"h":21.5,"v":57145},{"h":21.55,"v":57142},{"h":21.6,"v":57147},{"h":21.65,"v":57144},{"h":21.7,"v":57149},{"h":21.75,"v":57150},{"h":21.8,"v":57153},{"h":21.85,"v":57148},{"h":21.9,"v":57155},{"h":21.95,"v":57150},
      {"h":22,"v":57164},{"h":22.05,"v":57145},{"h":22.1,"v":57158},{"h":22.15,"v":57140},{"h":22.2,"v":57147},{"h":22.25,"v":57162},{"h":22.3,"v":57140},{"h":22.35,"v":57155},{"h":22.4,"v":57129},{"h":22.45,"v":57150},{"h":22.5,"v":57172},{"h":22.55,"v":57145},{"h":22.6,"v":57125},{"h":22.65,"v":57150},{"h":22.7,"v":57165},{"h":22.75,"v":57150},{"h":22.8,"v":57160},{"h":22.85,"v":57145},{"h":22.9,"v":57158},{"h":22.95,"v":57170},
      {"h":23,"v":57164},{"h":23.05,"v":57140},{"h":23.1,"v":57125},{"h":23.15,"v":57160},{"h":23.2,"v":57179},{"h":23.25,"v":57160},{"h":23.3,"v":57150},{"h":23.35,"v":57165},{"h":23.4,"v":57147},{"h":23.45,"v":57160},{"h":23.5,"v":57179},{"h":23.55,"v":57165},{"h":23.6,"v":57150},{"h":23.65,"v":57162},{"h":23.7,"v":57151},{"h":23.75,"v":57170},{"h":23.8,"v":57158},{"h":23.85,"v":57166},{"h":23.9,"v":57150},{"h":23.95,"v":57158},{"h":24,"v":57147}
    ]
  }
}
